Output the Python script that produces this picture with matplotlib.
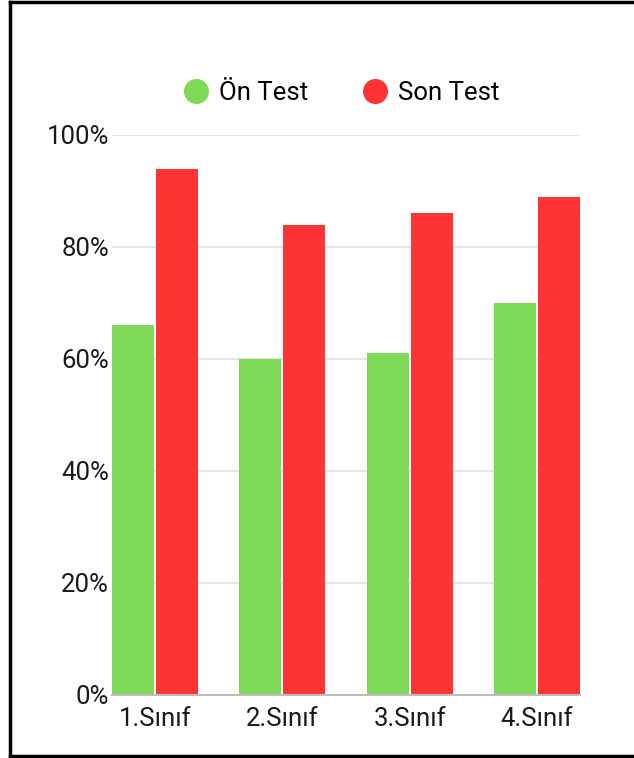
import matplotlib
matplotlib.use("Agg")
import matplotlib.pyplot as plt
from matplotlib.lines import Line2D
import numpy as np

categories = ["1.Sınıf", "2.Sınıf", "3.Sınıf", "4.Sınıf"]
on_test = [66, 60, 61, 70]
son_test = [94, 84, 86, 89]
series_names = ["Ön Test", "Son Test"]
yticks = [0, 20, 40, 60, 80, 100]

green = "#7ED957"
red = "#FF3333"

plt.rcParams['font.family'] = ['Roboto', 'DejaVu Sans']

W, H = 634, 758
fig = plt.figure(figsize=(W / 100, H / 100), dpi=100)
ax = fig.add_axes([112 / W, 1 - 695 / H, (580 - 112) / W, (695 - 135) / H])

x = np.arange(len(categories))
bw = 0.328
gap = 0.008
ax.bar(x - bw / 2 - gap, on_test, width=bw, color=green, zorder=3)
ax.bar(x + bw / 2 + gap, son_test, width=bw, color=red, zorder=3)

ax.set_xlim(-bw - gap, len(categories) - 1 + bw + gap)
ax.set_ylim(0, 100)
ax.set_yticks(yticks)
ax.set_yticklabels([f"{v}%" for v in yticks], fontsize=18.5, color="#1a1a1a")
ax.set_xticks(x)
ax.set_xticklabels(categories, fontsize=18.5, color="#1a1a1a")
ax.tick_params(axis="y", length=0, pad=2)
ax.tick_params(axis="x", length=0, pad=9)
ax.grid(axis="y", color="#e0e0e0", linewidth=1.2, zorder=0)
for s in ["left", "right", "top"]:
    ax.spines[s].set_visible(False)
ax.spines["bottom"].set_color("#bdbdbd")
ax.spines["bottom"].set_linewidth(1.5)
ax.spines["bottom"].set_zorder(4)

handles = [Line2D([], [], marker="o", linestyle="none", markersize=17,
                  markerfacecolor=c, markeredgecolor=c) for c in (green, red)]
fig.legend(handles, series_names, loc="center", bbox_to_anchor=(340 / W, 1 - 93 / H),
           ncol=2, frameon=False, fontsize=18.5, handletextpad=0.3, columnspacing=2.0,
           handlelength=1.2)

# outer frame (left, top, bottom)
lw = 2.5
for (xs, ys) in [((9.5 / W, 9.5 / W), (1 - 1.5 / H, 1 - 756 / H)),
                 ((9.5 / W, 1.0), (1 - 1.5 / H, 1 - 1.5 / H)),
                 ((9.5 / W, 1.0), (1 - 756 / H, 1 - 756 / H))]:
    fig.add_artist(Line2D(xs, ys, color="black", linewidth=lw, transform=fig.transFigure))

fig.savefig("out.png", dpi=100)
